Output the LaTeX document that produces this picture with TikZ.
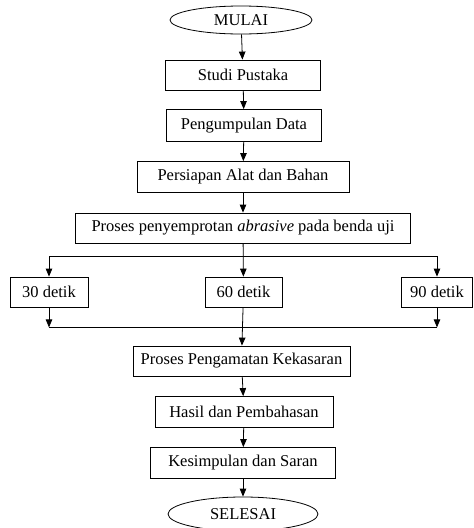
\documentclass[tikz,border=0pt]{standalone}
\usepackage{fontspec}
\setmainfont{Liberation Serif}
\usetikzlibrary{calc,arrows.meta,shapes.geometric}

\begin{document}
\begin{tikzpicture}[x=1pt,y=1pt,font=\fontsize{16.5}{19}\selectfont]
  \tikzset{box/.style={shape=rectangle,draw,line width=0.8pt,inner sep=0pt,text centered},
           oval/.style={shape=ellipse,draw,line width=0.8pt,inner sep=0pt},
           flow/.style={line width=0.8pt,arrows={-{Triangle[length=8pt,width=6.5pt]}}}};
  \useasboundingbox (0,0) rectangle (474,-528);
  \node[oval,minimum width=142,minimum height=28] (M) at (241,-20){MULAI};
  \node[box,minimum width=155,minimum height=30] (SP) at (243,-75){Studi Pustaka};
  \node[box,minimum width=155,minimum height=32] (PD) at (244,-125.5){Pengumpulan Data};
  \node[box,minimum width=212,minimum height=31] (PA) at (243,-177){Persiapan Alat dan Bahan};
  \node[box,minimum width=335,minimum height=30] (PP) at (243,-228){Proses penyemprotan \textit{abrasive} pada benda uji};
  \node[box,minimum width=78,minimum height=30] (T30) at (49,-292){30 detik};
  \node[box,minimum width=77,minimum height=30] (T60) at (243.5,-292){60 detik};
  \node[box,minimum width=71,minimum height=30] (T90) at (437,-292){90 detik};
  \node[box,minimum width=217,minimum height=30] (PK) at (241.5,-361){Proses Pengamatan Kekasaran};
  \node[box,minimum width=178,minimum height=31] (HP) at (244,-412){Hasil dan Pembahasan};
  \node[box,minimum width=185,minimum height=31] (KS) at (243,-463){Kesimpulan dan Saran};
  \node[oval,minimum width=150,minimum height=34] (S) at (243,-514){SELESAI};
  \coordinate (B) at ($(PP.south)+(0,-13)$);
  \coordinate (J30) at ($(T30.south)+(0,-20)$);
  \coordinate (J90) at ($(T90.south)+(0,-20)$);
  \draw[flow] (M) -- (SP);
  \draw[flow] (SP) -- (PD);
  \draw[flow] (PD) -- (PA);
  \draw[flow] (PA) -- (PP);
  \draw[flow] (PP) -- (T60);
  \draw[flow] (B) -| (T30);
  \draw[flow] (B) -| (T90);
  \draw[flow] (T30) -- (J30);
  \draw[flow] (T90) -- (J90);
  \draw[line width=0.8pt] (J30) -- (J90);
  \draw[flow] (T60) -- (PK);
  \draw[flow] (PK) -- (HP);
  \draw[flow] (HP) -- (KS);
  \draw[flow] (KS) -- (S);
\end{tikzpicture}
\end{document}
